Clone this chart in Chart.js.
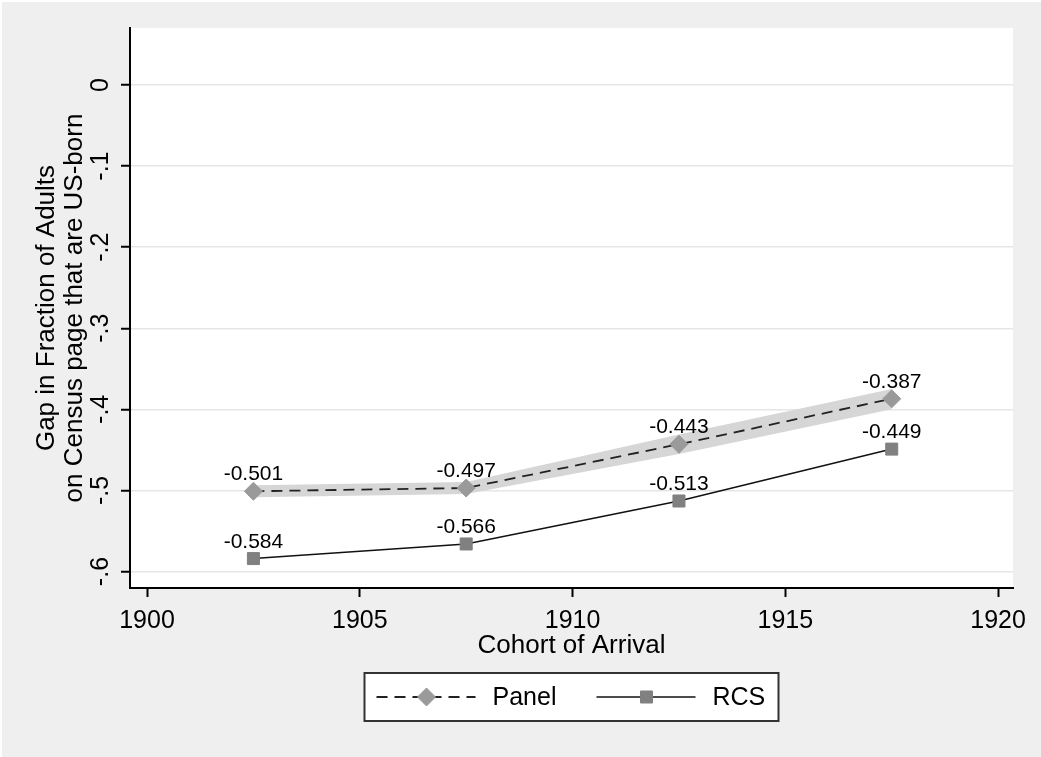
<!DOCTYPE html>
<html>
<head>
<meta charset="utf-8">
<title>Gap in Fraction of Adults by Cohort of Arrival</title>
<script src="https://cdn.jsdelivr.net/npm/chart.js@4.4.1/dist/chart.umd.min.js"></script>
<style>
  html, body { margin: 0; padding: 0; background: #ffffff; }
  #wrap { width: 1041px; height: 757px; }
</style>
</head>
<body>
<div id="wrap"><canvas id="gapChart" width="1041" height="757"></canvas></div>
<script>
// data
const cohorts = [1902.5, 1907.5, 1912.5, 1917.5];
const panelGap = [-0.501, -0.497, -0.443, -0.387];
const panelUpper = [-0.4935, -0.4895, -0.431, -0.375];
const panelLower = [-0.5085, -0.5045, -0.455, -0.400];
const rcsGap = [-0.584, -0.566, -0.513, -0.449];

// axis ticks
const xTicks = [1900, 1905, 1910, 1915, 1920];
const yTicks = [0, -0.1, -0.2, -0.3, -0.4, -0.5, -0.6];
const yTickLabels = ["0", "-.1", "-.2", "-.3", "-.4", "-.5", "-.6"];

const FONT = "'Liberation Sans', Arial, sans-serif";

const toPoints = (ys) => cohorts.map((x, i) => ({ x: x, y: ys[i] }));

// grey page, white plot region (Stata look)
const backdrop = {
  id: "backdrop",
  beforeDraw(chart) {
    const { ctx, chartArea: a } = chart;
    ctx.save();
    ctx.fillStyle = "#ffffff";
    ctx.fillRect(0, 0, chart.width, chart.height);
    ctx.fillStyle = "#efefef";
    ctx.fillRect(2, 2, chart.width - 2, chart.height - 2);
    ctx.fillStyle = "#ffffff";
    ctx.fillRect(a.left, a.top, a.right - a.left, a.bottom - a.top);
    ctx.restore();
  }
};

// value labels above the markers
const valueLabels = {
  id: "valueLabels",
  afterDatasetsDraw(chart) {
    const ctx = chart.ctx;
    ctx.save();
    ctx.font = "21px " + FONT;
    ctx.fillStyle = "#000";
    ctx.textAlign = "center";
    ctx.textBaseline = "alphabetic";
    chart.data.datasets.forEach((ds, di) => {
      if (!ds.valueLabels) return;
      chart.getDatasetMeta(di).data.forEach((pt, i) => {
        ctx.fillText(ds.data[i].y.toFixed(3), pt.x, pt.y - 11);
      });
    });
    ctx.restore();
  }
};

// boxed legend under the axis title, line sample with marker in the middle
const boxLegend = {
  id: "boxLegend",
  afterDraw(chart) {
    const { ctx, chartArea: a } = chart;
    const h = Chart.helpers;
    const cx = (a.left + a.right) / 2;
    const boxW = 414, boxH = 48, boxTop = 673;
    const left = cx - boxW / 2;
    const midY = boxTop + boxH / 2;

    ctx.save();
    ctx.fillStyle = "#ffffff";
    ctx.fillRect(left, boxTop, boxW, boxH);
    ctx.strokeStyle = "#333";
    ctx.lineWidth = 2;
    ctx.strokeRect(left, boxTop, boxW, boxH);

    const items = [
      { ds: chart.data.datasets[0], x0: left + 12, label: "Panel" },
      { ds: chart.data.datasets[1], x0: left + 232, label: "RCS" }
    ];
    items.forEach((it) => {
      const ds = it.ds;
      ctx.strokeStyle = ds.borderColor;
      ctx.lineWidth = ds.borderWidth;
      ctx.setLineDash(ds.borderDash || []);
      ctx.beginPath();
      ctx.moveTo(it.x0, midY);
      ctx.lineTo(it.x0 + 99, midY);
      ctx.stroke();
      ctx.setLineDash([]);
      ctx.fillStyle = ds.pointBackgroundColor;
      ctx.strokeStyle = ds.pointBorderColor;
      ctx.lineWidth = 1;
      h.drawPoint(ctx, { pointStyle: ds.pointStyle, radius: ds.pointRadius, rotation: 0, borderWidth: 1 }, it.x0 + 50, midY);
      ctx.fillStyle = "#000";
      ctx.font = "25px " + FONT;
      ctx.textAlign = "left";
      ctx.textBaseline = "middle";
      ctx.fillText(it.label, it.x0 + 116, midY + 1);
    });
    ctx.restore();
  }
};

new Chart(document.getElementById("gapChart"), {
  type: "line",
  data: {
    datasets: [
      {
        label: "Panel",
        data: toPoints(panelGap),
        borderColor: "#222",
        borderWidth: 1.8,
        borderDash: [11, 7],
        pointStyle: "rectRot",
        pointRadius: 9,
        pointBackgroundColor: "#9a9a9a",
        pointBorderColor: "#9a9a9a",
        pointBorderWidth: 1,
        fill: false,
        valueLabels: true
      },
      {
        label: "RCS",
        data: toPoints(rcsGap),
        borderColor: "#111",
        borderWidth: 1.5,
        pointStyle: "rect",
        pointRadius: 8.5,
        pointBackgroundColor: "#808080",
        pointBorderColor: "#808080",
        pointBorderWidth: 1,
        fill: false,
        valueLabels: true
      },
      {
        label: "Panel upper",
        data: toPoints(panelUpper),
        borderWidth: 0,
        pointRadius: 0,
        backgroundColor: "#d6d6d6",
        fill: "+1"
      },
      {
        label: "Panel lower",
        data: toPoints(panelLower),
        borderWidth: 0,
        pointRadius: 0,
        fill: false
      }
    ]
  },
  options: {
    responsive: false,
    animation: false,
    devicePixelRatio: 1,
    layout: { padding: { left: 0, top: 28, right: 28, bottom: 89 } },
    plugins: {
      legend: { display: false },
      tooltip: { enabled: false },
      filler: { drawTime: "beforeDatasetsDraw" }
    },
    scales: {
      x: {
        type: "linear",
        min: 1899.6,
        max: 1920.35,
        afterBuildTicks: (s) => { s.ticks = xTicks.map((v) => ({ value: v })); },
        afterFit: (s) => { s.height = 80; },
        grid: { drawOnChartArea: false, drawTicks: true, tickLength: 9, tickColor: "#000", tickWidth: 2 },
        border: { color: "#000", width: 2 },
        ticks: {
          color: "#000",
          font: { family: FONT, size: 25 },
          padding: 9,
          maxRotation: 0,
          callback: (v) => String(v)
        },
        title: {
          display: true,
          text: "Cohort of Arrival",
          color: "#000",
          font: { family: FONT, size: 26, lineHeight: 1.08 },
          padding: { top: 0, bottom: 8 }
        }
      },
      y: {
        type: "linear",
        min: -0.6203,
        max: 0.0703,
        afterBuildTicks: (s) => { s.ticks = yTicks.map((v) => ({ value: v })); },
        afterFit: (s) => { s.width = 130; },
        grid: { color: "#e6e6e6", lineWidth: 1.5, drawTicks: true, tickLength: 9, tickColor: "#000", tickWidth: 2 },
        border: { color: "#000", width: 2 },
        ticks: {
          color: "#000",
          font: { family: FONT, size: 25 },
          minRotation: 90,
          maxRotation: 90,
          crossAlign: "center",
          padding: 5,
          callback: (v) => {
            const i = yTicks.findIndex((t) => Math.abs(t - v) < 1e-9);
            return i >= 0 ? yTickLabels[i] : "";
          }
        },
        title: {
          display: true,
          text: ["Gap in Fraction of Adults", "on Census page that are US-born"],
          color: "#000",
          font: { family: FONT, size: 26, lineHeight: 1.08 },
          padding: { top: 33, bottom: 0 }
        }
      }
    }
  },
  plugins: [backdrop, valueLabels, boxLegend]
});
</script>
</body>
</html>
